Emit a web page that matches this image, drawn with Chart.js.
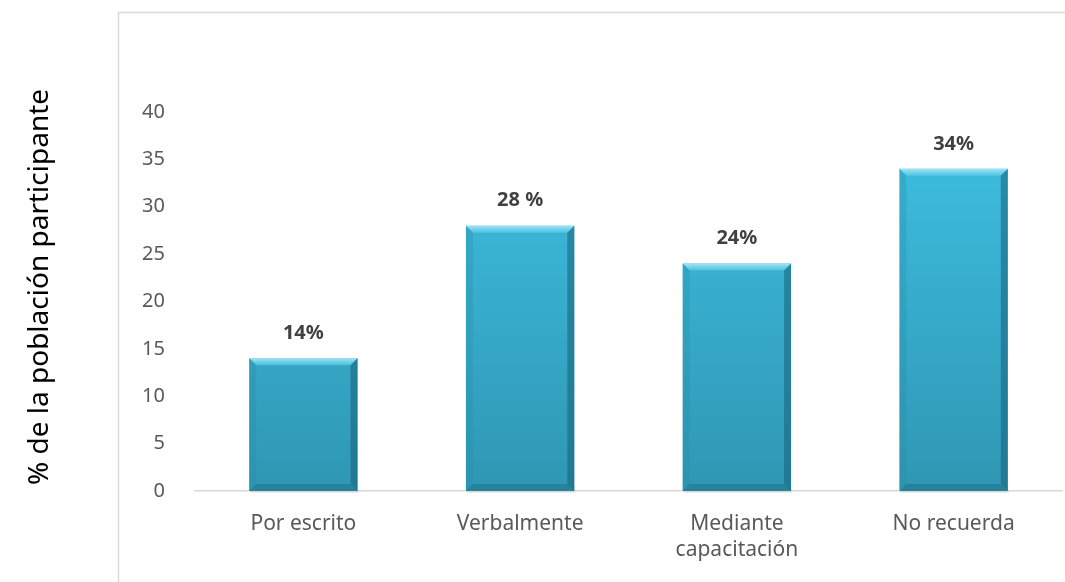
<!DOCTYPE html>
<html>
<head>
<meta charset="utf-8">
<script src="https://cdn.jsdelivr.net/npm/chart.js@4/dist/chart.umd.min.js"></script>
<style>
  html, body { margin: 0; padding: 0; background: #fff; }
  #wrap { width: 1065px; height: 582px; position: relative; }
</style>
</head>
<body>
<div id="wrap"><canvas id="grafico"></canvas></div>
<script>
// categorías y porcentajes
var categorias = ['Por escrito', 'Verbalmente', ['Mediante', 'capacitación'], 'No recuerda'];
var valores = [14, 28, 24, 34];
var etiquetas = ['14%', '28 %', '24%', '34%'];
var tituloEjeY = '% de la población participante';

var fuente = "'Noto Sans', sans-serif";

// marco gris y título del eje Y fuera del marco
var marco = {
    id: 'marco',
    beforeDraw: function(chart) {
        var ctx = chart.ctx;
        ctx.save();
        ctx.fillStyle = '#fff';
        ctx.fillRect(0, 0, chart.width, chart.height);
        ctx.strokeStyle = '#d9d9d9';
        ctx.lineWidth = 1.5;
        ctx.strokeRect(118.5, 12.5, chart.width + 10, chart.height + 10);
        ctx.translate(40, 287);
        ctx.rotate(-Math.PI / 2);
        ctx.fillStyle = '#000';
        ctx.font = "28px " + fuente;
        ctx.textAlign = 'center';
        ctx.textBaseline = 'middle';
        ctx.fillText(tituloEjeY, 0, 0);
        ctx.restore();
    }
};

// biselado de las barras y etiquetas de valor
var bisel = {
    id: 'bisel',
    afterDatasetsDraw: function(chart) {
        var ctx = chart.ctx;
        var meta = chart.getDatasetMeta(0);
        meta.data.forEach(function(bar, i) {
            var l = bar.x - bar.width / 2, r = bar.x + bar.width / 2;
            var t = bar.y, b = bar.base, s = 7;
            ctx.save();
            // cara superior
            var gs = ctx.createLinearGradient(0, t, 0, t + s);
            gs.addColorStop(0, 'rgba(170,232,246,0.95)');
            gs.addColorStop(1, 'rgba(95,205,233,0.6)');
            ctx.fillStyle = gs;
            ctx.beginPath();
            ctx.moveTo(l, t); ctx.lineTo(r, t); ctx.lineTo(r - s, t + s); ctx.lineTo(l + s, t + s);
            ctx.closePath(); ctx.fill();
            // cara izquierda
            ctx.fillStyle = 'rgba(40,140,170,0.3)';
            ctx.beginPath();
            ctx.moveTo(l, t); ctx.lineTo(l + s, t + s); ctx.lineTo(l + s, b - s); ctx.lineTo(l, b);
            ctx.closePath(); ctx.fill();
            // cara derecha
            ctx.fillStyle = 'rgba(20,90,115,0.5)';
            ctx.beginPath();
            ctx.moveTo(r, t); ctx.lineTo(r - s, t + s); ctx.lineTo(r - s, b - s); ctx.lineTo(r, b);
            ctx.closePath(); ctx.fill();
            // cara inferior
            ctx.fillStyle = 'rgba(25,100,125,0.4)';
            ctx.beginPath();
            ctx.moveTo(l, b); ctx.lineTo(l + s, b - s); ctx.lineTo(r - s, b - s); ctx.lineTo(r, b);
            ctx.closePath(); ctx.fill();
            // sombra bajo la barra
            ctx.fillStyle = 'rgba(0,0,0,0.08)';
            ctx.fillRect(l + 1, b, r - l, 2);
            // etiqueta
            ctx.fillStyle = '#404040';
            ctx.font = 'bold 20px ' + fuente;
            ctx.textAlign = 'center';
            ctx.textBaseline = 'middle';
            ctx.fillText(etiquetas[i], bar.x, t - 25);
            ctx.restore();
        });
    }
};

var ctx = document.getElementById('grafico').getContext('2d');
new Chart(ctx, {
    type: 'bar',
    data: {
        labels: categorias,
        datasets: [{
            data: valores,
            backgroundColor: function(c) {
                var area = c.chart.chartArea;
                if (!area) return '#3bb6d8';
                var g = c.chart.ctx.createLinearGradient(0, area.top, 0, area.bottom);
                g.addColorStop(0, '#3fc1e4');
                g.addColorStop(1, '#2f97b3');
                return g;
            },
            borderWidth: 0,
            categoryPercentage: 1,
            barPercentage: 0.5
        }]
    },
    options: {
        responsive: true,
        maintainAspectRatio: false,
        animation: false,
        layout: { padding: { left: 0, right: 3, top: 112, bottom: 0 } },
        plugins: {
            legend: { display: false },
            tooltip: { enabled: false }
        },
        scales: {
            x: {
                grid: { display: false },
                border: { display: true, color: '#d9d9d9', width: 1.5 },
                ticks: { color: '#595959', font: { family: fuente, size: 21, lineHeight: 1.24 }, padding: 12, maxRotation: 0 },
                afterFit: function(s) { s.height = 91; }
            },
            y: {
                min: 0, max: 40,
                grid: { display: false },
                border: { display: false },
                ticks: { stepSize: 5, color: '#595959', font: { family: fuente, size: 20 }, padding: 22 },
                afterFit: function(s) { s.width = 195; }
            }
        }
    },
    plugins: [marco, bisel]
});
</script>
</body>
</html>
